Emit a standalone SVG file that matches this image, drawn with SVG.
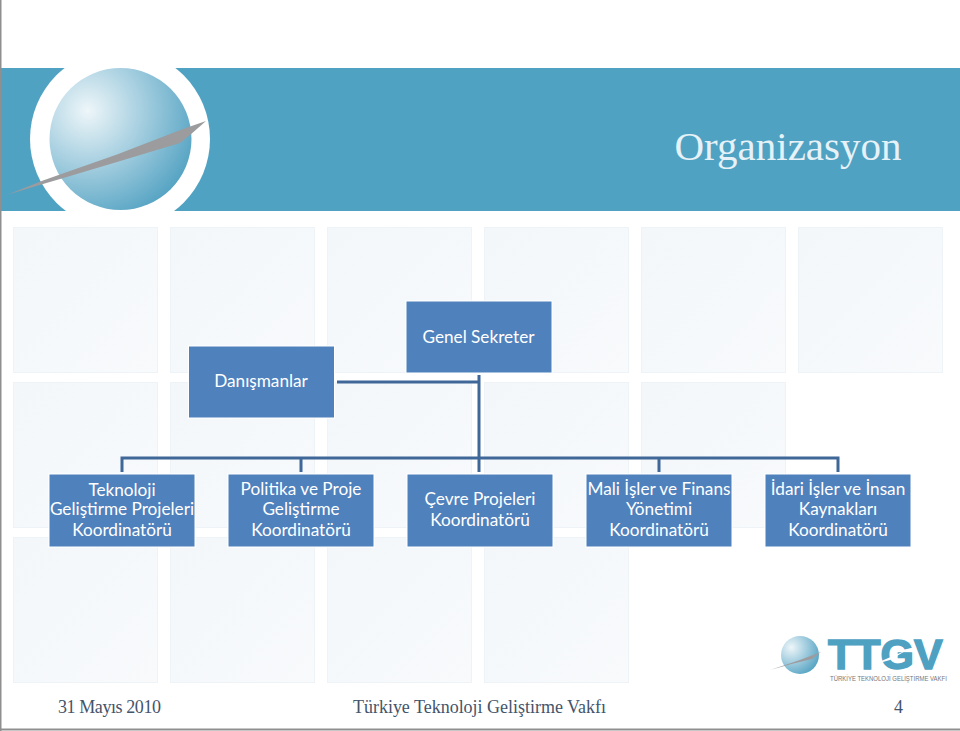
<svg xmlns="http://www.w3.org/2000/svg" width="960" height="731" viewBox="0 0 960 731">
<style>
.tile{fill:url(#tile);stroke:#eef3f7;stroke-width:1}
.box{fill:#4f81bd;stroke:#fff;stroke-width:1}
.lbl{font-family:Lato,"Open Sans",sans-serif;font-size:17.200px;fill:#fff;text-anchor:middle}
.foot{font-family:"Liberation Serif",serif;font-size:18px;fill:#44546a}
.conn{fill:none;stroke:#3f6797;stroke-width:3}
</style>
<defs>
<linearGradient id="tile" x1="0" y1="0" x2="1" y2="1"><stop offset="0" stop-color="#f3f7fa"/><stop offset="1" stop-color="#f8fafc"/></linearGradient>
<radialGradient id="sphere" cx="0.27" cy="0.3" r="0.85"><stop offset="0" stop-color="#eef6f9"/><stop offset="0.45" stop-color="#a6cfe0"/><stop offset="1" stop-color="#4d9fc0"/></radialGradient>
<clipPath id="band"><rect x="0" y="68" width="960" height="143"/></clipPath>
</defs>
<rect width="960" height="731" fill="#fff"/>
<g id="tiles">
<rect class="tile" x="13.500" y="227.500" width="144" height="145"/><rect class="tile" x="170.500" y="227.500" width="144" height="145"/><rect class="tile" x="327.500" y="227.500" width="144" height="145"/><rect class="tile" x="484.500" y="227.500" width="144" height="145"/><rect class="tile" x="641.500" y="227.500" width="144" height="145"/><rect class="tile" x="798.500" y="227.500" width="144" height="145"/>
<rect class="tile" x="13.500" y="382.500" width="144" height="145"/><rect class="tile" x="170.500" y="382.500" width="144" height="145"/><rect class="tile" x="327.500" y="382.500" width="144" height="145"/><rect class="tile" x="484.500" y="382.500" width="144" height="145"/><rect class="tile" x="641.500" y="382.500" width="144" height="145"/>
<rect class="tile" x="13.500" y="537.500" width="144" height="145"/><rect class="tile" x="170.500" y="537.500" width="144" height="145"/><rect class="tile" x="327.500" y="537.500" width="144" height="145"/><rect class="tile" x="484.500" y="537.500" width="144" height="145"/>
</g>
<g id="header">
<rect x="0" y="68" width="960" height="143" fill="#50a2c3"/>
<circle cx="120" cy="139" r="90" fill="#fff" clip-path="url(#band)"/>
<circle cx="120.500" cy="139" r="71" fill="url(#sphere)"/>
<path d="M8 194.500 L43 180.500 L60 174.500 L117 154.500 L183 129 L206 121 L190 135 L180 143 L117 162 L60 179 L43 184 Z" fill="#9c9c9e"/>
<text x="788" y="160" font-family="'Liberation Serif',serif" font-size="41" fill="#e6f2f7" text-anchor="middle">Organizasyon</text>
</g>
<g id="connectors">
<path class="conn" d="M337 382H479M479 375V472M122 472V458H838V472M301 458V472M659 458V472"/>
</g>
<g id="genel-sekreter"><rect class="box" x="406" y="301" width="146" height="72"/><text class="lbl" x="478.500" y="343">Genel Sekreter</text></g>
<g id="danismanlar"><rect class="box" x="188.500" y="346" width="146" height="72"/><text class="lbl" x="261" y="387">Danışmanlar</text></g>
<g id="teknoloji"><rect class="box" x="49" y="474" width="146" height="73"/><text class="lbl" x="122" y="496">Teknoloji</text><text class="lbl" x="122" y="515">Geliştirme Projeleri</text><text class="lbl" x="122" y="536">Koordinatörü</text></g>
<g id="politika"><rect class="box" x="228" y="474" width="146" height="73"/><text class="lbl" x="301" y="495">Politika ve Proje</text><text class="lbl" x="301" y="515">Geliştirme</text><text class="lbl" x="301" y="536">Koordinatörü</text></g>
<g id="cevre"><rect class="box" x="407" y="474" width="146" height="73"/><text class="lbl" x="480" y="505">Çevre Projeleri</text><text class="lbl" x="480" y="526">Koordinatörü</text></g>
<g id="mali"><rect class="box" x="586" y="474" width="146" height="73"/><text class="lbl" x="659" y="495">Mali İşler ve Finans</text><text class="lbl" x="659" y="515">Yönetimi</text><text class="lbl" x="659" y="536">Koordinatörü</text></g>
<g id="idari"><rect class="box" x="765" y="474" width="146" height="73"/><text class="lbl" x="838" y="495">İdari İşler ve İnsan</text><text class="lbl" x="838" y="515">Kaynakları</text><text class="lbl" x="838" y="536">Koordinatörü</text></g>
<g id="logo">
<circle cx="800" cy="655" r="19" fill="url(#sphere)"/>
<path d="M770 670 L800 660 L821 652 L812 659 Q790 664 770 670Z" fill="#9c9c9e"/>
<text x="828" y="669" font-family="'Liberation Sans',sans-serif" font-size="43" font-weight="700" fill="#4fa1c2" stroke="#4fa1c2" stroke-width="1.500">TTGV</text>
<path d="M872 665 L907 650 L890 660Z" fill="#fff"/>
<text transform="translate(830,681) scale(.83,1)" font-family="'Liberation Sans',sans-serif" font-size="7.200" fill="#777">TÜRKİYE TEKNOLOJİ GELİŞTİRME VAKFI</text>
</g>
<g id="footer">
<text class="foot" x="58" y="713" textLength="103">31 Mayıs 2010</text>
<text class="foot" x="353" y="713" textLength="253">Türkiye Teknoloji Geliştirme Vakfı</text>
<text class="foot" x="894" y="713">4</text>
</g>
<g id="frame"><path d="M0.500 0V731M0 729.500H960" fill="none" stroke="#8f8f8f" stroke-width="2"/></g>
</svg>
